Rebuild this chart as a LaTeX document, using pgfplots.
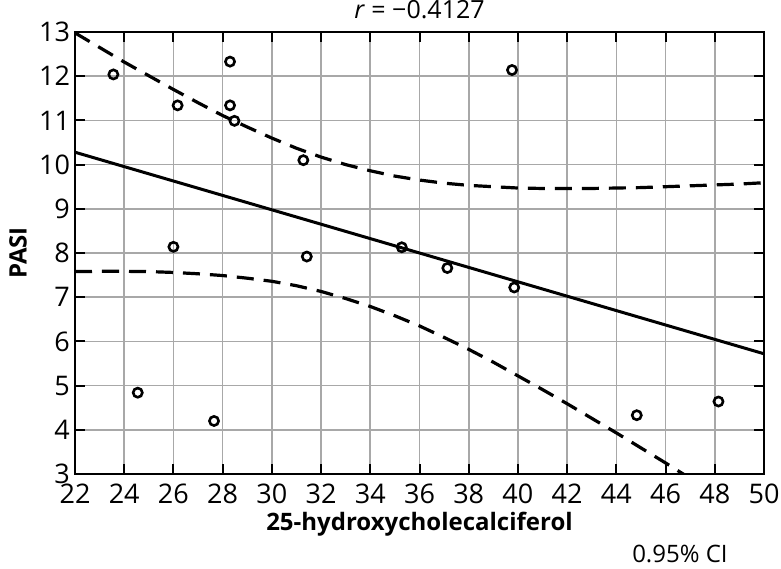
\documentclass[border=0pt]{standalone}
\usepackage{fontspec}
\setmainfont{Open Sans}
\usepackage{pgfplots}
\pgfplotsset{compat=1.18}
\definecolor{gridgray}{HTML}{A8A8A8}

\begin{document}
\begin{tikzpicture}
\begin{axis}[scale only axis,width=344.5pt,height=221pt,
 xmin=22,xmax=50,ymin=3,ymax=13,
 xtick={22,24,...,50},ytick={3,4,...,13},
 tick align=inside,major tick length=5pt,
 grid=major,grid style={gridgray,line width=0.8pt},
 axis line style={line width=1pt},
 tick style={black,line width=1pt},
 /pgf/number format/assume math mode=true,
 tick label style={font=\fontsize{13.5}{16}\selectfont},
 xticklabel style={yshift=-1.5pt},
 yticklabel style={xshift=1pt},
 xlabel={\textbf{25-hydroxycholecalciferol}},ylabel={\textbf{PASI}},
 every axis x label/.style={at={(axis description cs:0.5,0)},yshift=-25pt,anchor=center,font=\fontsize{12}{14}\selectfont\bfseries},
 every axis y label/.style={at={(axis description cs:0,0.5)},xshift=-28.5pt,rotate=90,anchor=center,font=\fontsize{12}{14}\selectfont\bfseries},
 clip=true]
% confidence band, upper
\addplot[black,line width=1.6pt,dash pattern=on 8.5pt off 5pt] coordinates {
 (22,12.98) (23,12.65) (24,12.32) (25,12.01) (26,11.70) (27,11.40) (28,11.11)
 (29,10.85) (30,10.60) (31,10.37) (32,10.17) (33,10.00) (34,9.86) (35,9.74)
 (36,9.65) (37,9.58) (38,9.53) (39,9.50) (40,9.47) (41,9.46) (42,9.46)
 (43,9.46) (44,9.47) (45,9.48) (46,9.50) (47,9.52) (48,9.54) (49,9.56) (50,9.59)};
% confidence band, lower
\addplot[black,line width=1.6pt,dash pattern=on 8.5pt off 5pt] coordinates {
 (22,7.58) (23,7.585) (24,7.585) (25,7.58) (26,7.56) (27,7.53) (28,7.49)
 (29,7.43) (30,7.36) (31,7.26) (32,7.13) (33,6.97) (34,6.79) (35,6.58)
 (36,6.35) (37,6.09) (38,5.82) (39,5.53) (40,5.22) (41,4.91) (42,4.59)
 (43,4.26) (44,3.93) (45,3.59) (46,3.25) (47,2.90)};
% regression line
\addplot[black,line width=1.5pt] coordinates {(22,10.28) (50,5.72)};
% observations
\addplot[only marks,mark=o,mark size=2.3pt,mark options={black,line width=1.3pt,fill=white}] coordinates {
 (23.56,12.04) (26.17,11.34) (28.30,12.33) (28.30,11.34) (28.48,10.99)
 (31.28,10.10) (26.00,8.14) (31.42,7.92) (39.76,12.14) (35.28,8.13)
 (37.13,7.66) (39.85,7.22) (24.55,4.84) (27.65,4.20) (44.83,4.33) (48.15,4.64)};
\end{axis}
\node[font=\fontsize{12.5}{15}\selectfont] at ([yshift=11pt]current axis.north) {\textit{r} = −0.4127};
\node[font=\fontsize{12}{14}\selectfont] at ([xshift=0.878*344.5pt,yshift=-40pt]current axis.south west) {0.95\% CI};
\pgfresetboundingbox
\path ([xshift=-37.5pt,yshift=-47pt]current axis.south west) rectangle ([xshift=8.5pt,yshift=16pt]current axis.north east);
\end{tikzpicture}
\end{document}
